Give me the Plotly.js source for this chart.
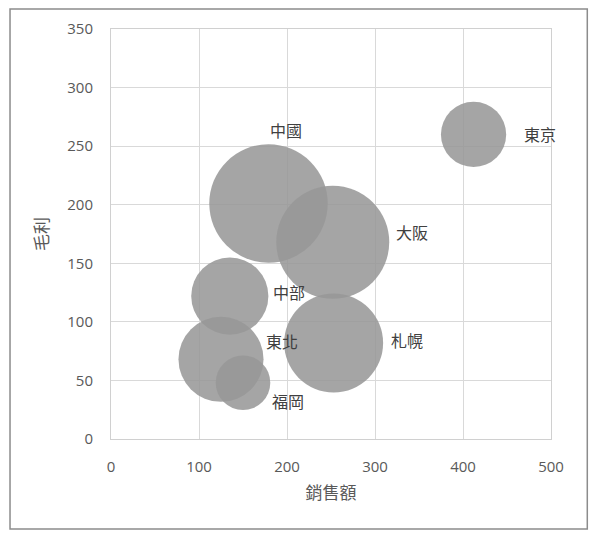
<!DOCTYPE html>
<html>
<head>
<meta charset="utf-8">
<script src="https://cdn.plot.ly/plotly-3.0.1.min.js"></script>
<style>
  html, body { margin: 0; padding: 0; background: #fff; }
  #chart { width: 600px; height: 547px; }
</style>
</head>
<body>
<div id="chart"></div>
<script>
/******************** DATA ********************/
const regions = ["東京", "中國", "大阪", "札幌", "中部", "東北", "福岡"];
const sales   = [412, 179, 252, 253, 135, 125, 150];   // 銷售額
const profit  = [260, 201, 168, 82, 122, 68, 48];      // 毛利
const bubble  = [20, 66, 60, 46, 28, 34, 14];          // bubble size

// label offsets in pixels (from each bubble centre)
const labelDx = [66, 17, 79, 73, 59, 61, 45];
const labelDy = [0, -74, -10, -3, -4, -18, 18];

/******************** CHART ********************/
const labelFont = { family: "Noto Sans CJK TC, sans-serif", size: 16, color: "#404040" };
const tickFont  = { family: "Open Sans, Noto Sans, sans-serif", size: 15, color: "#595959" };

const trace = {
  x: sales,
  y: profit,
  mode: "markers",
  type: "scatter",
  hoverinfo: "skip",
  marker: {
    size: bubble,
    sizemode: "area",
    sizeref: 0.0094,
    color: "rgba(152,152,152,0.87)",
    opacity: 1,            // bubbles default to 0.7 otherwise
    line: { width: 0 }
  }
};

// data labels, placed off each bubble
const annotations = regions.map((name, i) => ({
  x: sales[i],
  y: profit[i],
  xref: "x",
  yref: "y",
  text: name,
  showarrow: false,
  xshift: labelDx[i],
  yshift: -labelDy[i],
  font: labelFont
}));

const layout = {
  width: 600,
  height: 547,
  margin: { l: 111, r: 49, t: 29, b: 108 },
  paper_bgcolor: "#fff",
  plot_bgcolor: "#fff",
  showlegend: false,
  xaxis: {
    range: [0, 500],
    dtick: 100,
    tick0: 0,
    showgrid: true,
    gridcolor: "#d9d9d9",
    gridwidth: 1,
    zeroline: false,
    showline: true,
    linecolor: "#d0d0d0",
    mirror: true,
    ticks: "",
    ticklabelstandoff: 14,
    tickfont: tickFont,
    title: { text: "銷售額", font: { family: "Noto Sans CJK TC, sans-serif", size: 17, color: "#595959" }, standoff: 12 }
  },
  yaxis: {
    range: [0, 350],
    dtick: 50,
    tick0: 0,
    showgrid: true,
    gridcolor: "#d9d9d9",
    gridwidth: 1,
    zeroline: false,
    showline: true,
    linecolor: "#d0d0d0",
    mirror: true,
    ticks: "",
    ticklabelstandoff: 14,
    tickfont: tickFont,
    title: { text: "毛利", font: { family: "Noto Sans CJK TC, sans-serif", size: 17, color: "#595959" }, standoff: 14 }
  },
  annotations: annotations,
  shapes: [{
    type: "rect",
    xref: "paper",
    yref: "paper",
    x0: -0.2295, x1: 1.0825,
    y0: -0.2195, y1: 1.0488,
    line: { color: "#8c8c8c", width: 1.5 },
    fillcolor: "rgba(0,0,0,0)",
    layer: "below"
  }]
};

Plotly.newPlot("chart", [trace], layout, { staticPlot: true, responsive: false });
</script>
</body>
</html>
